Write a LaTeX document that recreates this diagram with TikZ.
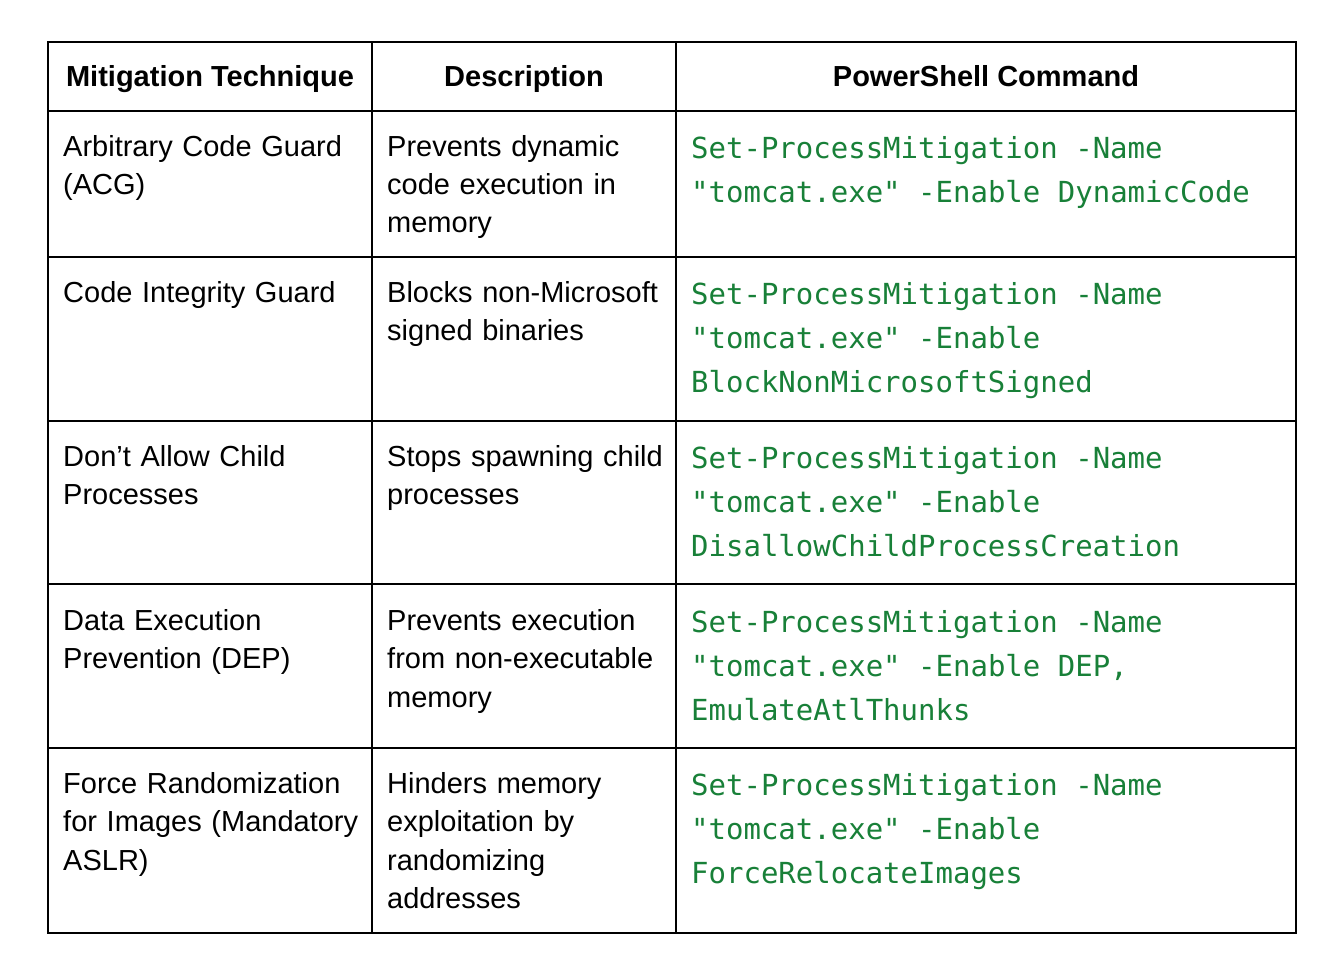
\documentclass[tikz,border=0pt]{standalone}
\usepackage{fontspec}
\setmainfont{Liberation Sans}
\newfontfamily\codefont{DejaVu Sans Mono}
\definecolor{codegreen}{HTML}{188038}
\begin{document}
\begin{tikzpicture}[x=1pt,y=-1pt,
  grid/.style={draw=black,line width=2.2pt},
  head/.style={anchor=base,inner sep=0pt,font=\fontsize{29}{38.5}\selectfont\bfseries},
  cell/.style={anchor=base west,inner sep=0pt,align=left,text width=300pt,font=\fontsize{29}{38.5}\selectfont},
  code/.style={anchor=base west,inner sep=0pt,align=left,text width=600pt,text=codegreen,
    font=\fontsize{29}{44}\codefont,
    execute at begin node={\spaceskip=17.5pt\relax\xspaceskip=17.5pt\relax}}]
\useasboundingbox (0,0) rectangle (1326,958);
\fill[white] (0,0) rectangle (1326,958);
% table grid
\draw[grid] (48,42) rectangle (1296,933);
\draw[grid] (372,42) -- (372,933);
\draw[grid] (676,42) -- (676,933);
\foreach \yy in {111,257,421,584,748} {\draw[grid] (48,\yy) -- (1296,\yy);}
% header
\node[head] (h1) at (210,87) {Mitigation Technique};
\node[head] (h2) at (524,87) {Description};
\node[head] (h3) at (986,87) {PowerShell Command};
% row 1
\node[cell] (a1) at (63,156) {Arbitrary Code Guard\\(ACG)};
\node[cell] (b1) at (387,156) {Prevents dynamic\\code execution in\\memory};
\node[code] (c1) at (691,158) {Set-ProcessMitigation -Name\\"tomcat.exe" -Enable DynamicCode};
% row 2
\node[cell] (a2) at (63,302) {Code Integrity Guard};
\node[cell] (b2) at (387,302) {Blocks non-Microsoft\\signed binaries};
\node[code] (c2) at (691,304) {Set-ProcessMitigation -Name\\"tomcat.exe" -Enable\\BlockNonMicrosoftSigned};
% row 3
\node[cell] (a3) at (63,466) {Don’t Allow Child\\Processes};
\node[cell] (b3) at (387,466) {Stops spawning child\\processes};
\node[code] (c3) at (691,468) {Set-ProcessMitigation -Name\\"tomcat.exe" -Enable\\DisallowChildProcessCreation};
% row 4
\node[cell] (a4) at (63,630) {Data Execution\\Prevention (DEP)};
\node[cell] (b4) at (387,630) {Prevents execution\\from non-executable\\memory};
\node[code] (c4) at (691,632) {Set-ProcessMitigation -Name\\"tomcat.exe" -Enable DEP,\\EmulateAtlThunks};
% row 5
\node[cell] (a5) at (63,793) {Force Randomization\\for Images (Mandatory\\ASLR)};
\node[cell] (b5) at (387,793) {Hinders memory\\exploitation by\\randomizing\\addresses};
\node[code] (c5) at (691,795) {Set-ProcessMitigation -Name\\"tomcat.exe" -Enable\\ForceRelocateImages};
\end{tikzpicture}
\end{document}
